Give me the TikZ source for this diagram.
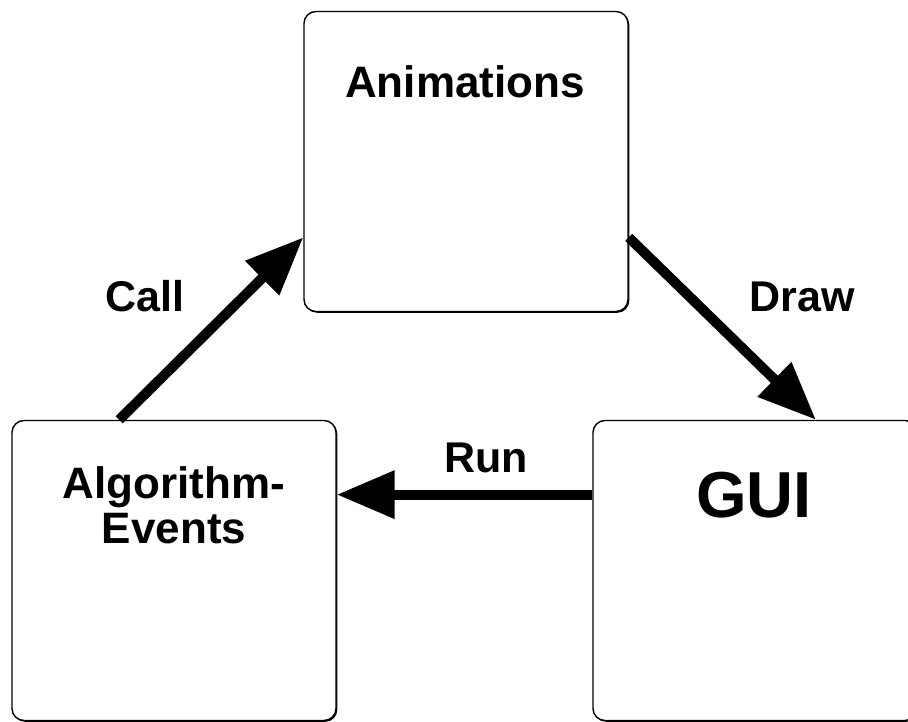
\documentclass[tikz,border=0pt]{standalone}
\usepackage{fontspec}
\setmainfont{Liberation Sans}
\usetikzlibrary{arrows.meta,shadows}

\tikzset{
	block/.style={rectangle,draw,line width=1.4pt,rounded corners=12pt,fill=white,
		minimum width=324pt,minimum height=300pt,
		drop shadow={shadow xshift=1.3pt,shadow yshift=-1.3pt,fill=black,opacity=1}},
	blocktext/.style={font=\bfseries\fontsize{44}{45}\selectfont,align=center,inner sep=0pt},
	flow/.style={line width=10pt,-{Triangle[length=58pt,width=46pt]}},
	flowtext/.style={font=\bfseries\fontsize{43}{45}\selectfont,inner sep=0pt}
}

\begin{document}
\begin{tikzpicture}[x=1pt,y=-1pt]
	\useasboundingbox (0,0) rectangle (908,722);
	
	%BOXES
	\node[block] (anim) at (466,161.5) {};
	\node[block] (algo) at (174,570.5) {};
	\node[block] (gui) at (755,570.5) {};
	
	%BOX TEXTS
	\node[blocktext,anchor=base] (animtext) at (465,98) {Animations};
	\node[blocktext,anchor=base] (algotext) at (174,543) {Algorithm-\\Events}; % base = last line
	\node[blocktext,anchor=base,font=\bfseries\fontsize{65}{66}\selectfont] (guitext) at (754,517) {GUI};
	
	%ARROWS
	\draw[flow] (algo.110) -- (anim.205);
	\draw[flow] (anim.-25) -- (gui.68);
	\draw[flow] (gui.155) -- (algo.25);
	
	%ARROW LABELS
	\node[flowtext,anchor=base] (call) at (145,312) {Call};
	\node[flowtext,anchor=base] (draw) at (802,312) {Draw};
	\node[flowtext,anchor=base] (run) at (486,472) {Run};
\end{tikzpicture}
\end{document}
